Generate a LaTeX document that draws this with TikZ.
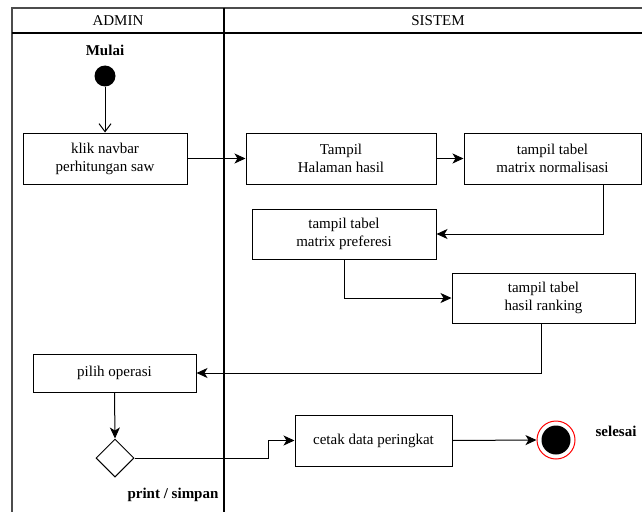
\documentclass[tikz,border=0pt]{standalone}
\usepackage{fontspec}
\setmainfont{Liberation Serif}
\usetikzlibrary{shapes.geometric,arrows.meta}
\begin{document}
\begin{tikzpicture}[x=1pt,y=-1pt,
  every node/.style={font=\fontsize{15}{18}\selectfont},
  actbox/.style={draw, line width=1pt, align=center, inner sep=0pt},
  lbl/.style={font=\fontsize{15}{18}\selectfont\bfseries},
  conn/.style={line width=1pt},
  arr/.style={conn, -{Stealth[length=11pt,width=10pt,inset=3pt]}},
  openarr/.style={conn, -{Straight Barb[length=8pt,width=12pt]}},
  lane/.style={line width=1.1pt}]
\useasboundingbox (0,0) rectangle (642,511);
\clip (0,0) rectangle (642,511);
% swimlanes
\draw[lane, draw=black!70] (12,560) -- (12,8) -- (700,8);
\draw[lane] (12,33) -- (700,33);
\draw[line width=1.5pt] (224,8) -- (224,560);
\node (hAdmin) at (118,20.5) {ADMIN};
\node (hSistem) at (438,20.5) {SISTEM};
% nodes
\node[lbl] (mulai) at (105,50) {Mulai};
\node[circle, fill=black, minimum size=21pt, inner sep=0pt] (start) at (105,76) {};
\node[actbox, minimum width=164pt, minimum height=51pt] (klik) at (105,158.5) {klik navbar\\perhitungan saw};
\node[actbox, minimum width=190pt, minimum height=51pt] (tampil) at (341,158.5) {Tampil\\Halaman hasil};
\node[actbox, minimum width=177pt, minimum height=51pt] (norm) at (552.5,158.5) {tampil tabel\\matrix normalisasi};
\node[actbox, minimum width=184pt, minimum height=50pt] (pref) at (344,234) {tampil tabel\\matrix preferesi};
\node[actbox, minimum width=183pt, minimum height=50pt] (rank) at (543.5,298) {tampil tabel\\hasil ranking};
\node[actbox, minimum width=163pt, minimum height=38pt] (pilih) at (114.5,373) {pilih operasi};
\node[diamond, draw, line width=1pt, minimum width=38pt, minimum height=38pt, inner sep=0pt] (dia) at (115,458) {};
\node[actbox, minimum width=157pt, minimum height=51pt] (cetak) at (373.5,440.5) {cetak data peringkat};
\node[circle, draw=red, line width=1pt, fill=white, minimum size=38pt, inner sep=0pt] (end) at (556,440) {};
\node[circle, fill=black, minimum size=29pt, inner sep=0pt] (endin) at (556,440) {};
\node[lbl] (selesai) at (616,431) {selesai};
\node[lbl] (prsim) at (173,495) {print / simpan};
% connectors
\draw[openarr] (start) -- (klik.north);
\draw[arr] (klik.east) -- (tampil.west);
\draw[arr] (tampil.east) -- (norm.west);
\draw[arr] ([xshift=50.5pt]norm.south) |- (pref.east);
\draw[arr] (pref.south) |- (rank.west);
\draw[arr] ([xshift=-2.5pt]rank.south) |- (pilih.east);
\draw[arr] (pilih.south) -- (dia.north);
\coordinate (bend) at (268,458);
\draw[arr] (dia.east) -- (bend) |- (cetak.west);
\draw[arr] (cetak.east) -- (end.west);
\end{tikzpicture}
\end{document}
